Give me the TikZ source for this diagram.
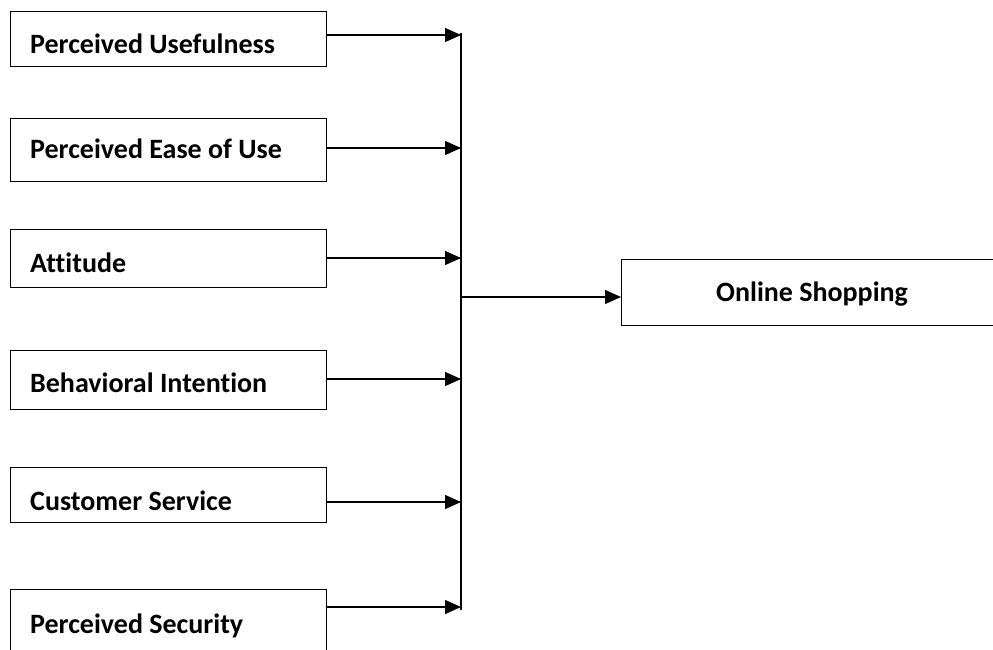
\documentclass[tikz,border=0pt]{standalone}
\usepackage{fontspec}
\setmainfont[Ligatures={NoCommon}]{Carlito}
\usetikzlibrary{arrows.meta}
\begin{document}
\begin{tikzpicture}[x=1pt,y=-1pt,
  box/.style={draw=black,line width=1.3pt,fill=white,inner sep=0pt,anchor=north west},
  lbl/.style={font=\fontsize{28}{32}\selectfont\bfseries,inner sep=0pt,anchor=base west},
  conn/.style={line width=1.4pt,-{Triangle[length=16pt,width=14pt]}},
  bus/.style={line width=1.4pt}]
\useasboundingbox (0,0) rectangle (993,649);
\clip (0,0) rectangle (993,649);

% factor boxes on the left
\node[box,minimum width=316pt,minimum height=55pt] (b1) at (10,11) {};
\node[box,minimum width=316pt,minimum height=63pt] (b2) at (10,118) {};
\node[box,minimum width=316pt,minimum height=58pt] (b3) at (10,229) {};
\node[box,minimum width=316pt,minimum height=59pt] (b4) at (10,350) {};
\node[box,minimum width=316pt,minimum height=55pt] (b5) at (10,467) {};
\node[box,minimum width=316pt,minimum height=80pt] (b6) at (10,589) {};

\node[lbl] (t1) at (30,53) {Perceived Usefulness};
\node[lbl] (t2) at (30,158) {Perceived Ease of Use};
\node[lbl] (t3) at (30,272) {Attitude};
\node[lbl] (t4) at (30,392) {Behavioral Intention};
\node[lbl] (t5) at (30,510) {Customer Service};
\node[lbl] (t6) at (30,633) {Perceived Security};

% outcome box
\node[box,minimum width=372pt,minimum height=66pt] (out) at (621,259) {};
\node[font=\fontsize{28}{32}\selectfont\bfseries,inner sep=0pt,anchor=base] (tout) at (812,301) {Online Shopping};

% collecting bus
\coordinate (top) at (461,33);
\coordinate (bot) at (461,610);
\draw[bus] (top) -- (bot);

\coordinate (e1) at (461,35);
\coordinate (e2) at (461,148);
\coordinate (e3) at (461,258);
\coordinate (e4) at (461,379);
\coordinate (e5) at (461,502);
\coordinate (e6) at (461,607);
\draw[conn] (b1.east |- e1) -- (e1);
\draw[conn] (b2.east |- e2) -- (e2);
\draw[conn] (b3.east |- e3) -- (e3);
\draw[conn] (b4.east |- e4) -- (e4);
\draw[conn] (b5.east |- e5) -- (e5);
\draw[conn] (b6.east |- e6) -- (e6);

\coordinate (s) at (461,297);
\draw[conn] (s) -- (out.west |- s);
\end{tikzpicture}
\end{document}
